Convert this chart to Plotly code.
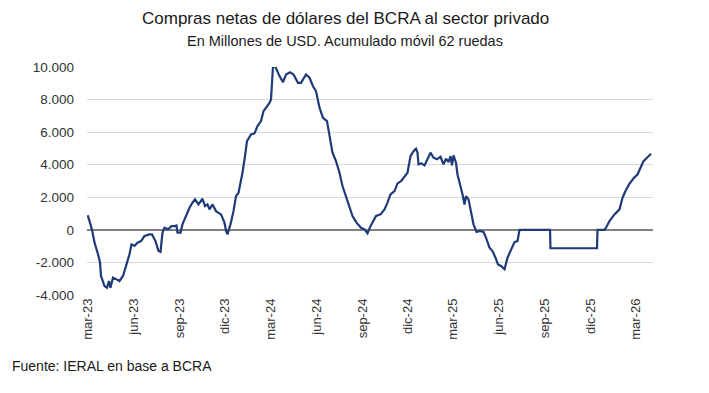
import plotly.graph_objects as go

dates = [
    "2023-03-01", "2023-03-03", "2023-03-10", "2023-03-15", "2023-03-22", "2023-03-26", "2023-03-28",
    "2023-04-04", "2023-04-09", "2023-04-13", "2023-04-16", "2023-04-21", "2023-04-28", "2023-05-04",
    "2023-05-11", "2023-05-17", "2023-05-24", "2023-05-28", "2023-06-03", "2023-06-09", "2023-06-16",
    "2023-06-23", "2023-07-03", "2023-07-08", "2023-07-15", "2023-07-21", "2023-07-25", "2023-07-29",
    "2023-08-02", "2023-08-09", "2023-08-16", "2023-08-23", "2023-08-26", "2023-08-28", "2023-09-03",
    "2023-09-07", "2023-09-14", "2023-09-21", "2023-09-27", "2023-10-02", "2023-10-09", "2023-10-17",
    "2023-10-22", "2023-10-27", "2023-10-31", "2023-11-06", "2023-11-13", "2023-11-23", "2023-11-30",
    "2023-12-03", "2023-12-06", "2023-12-12", "2023-12-18", "2023-12-23", "2023-12-28", "2024-01-01",
    "2024-01-05", "2024-01-10", "2024-01-14", "2024-01-22", "2024-01-29", "2024-02-04", "2024-02-11",
    "2024-02-16", "2024-02-24", "2024-02-28", "2024-03-02", "2024-03-04", "2024-03-06", "2024-03-11",
    "2024-03-19", "2024-03-26", "2024-04-01", "2024-04-09", "2024-04-16", "2024-04-25", "2024-05-01",
    "2024-05-11", "2024-05-18", "2024-05-25", "2024-05-31", "2024-06-07", "2024-06-14", "2024-06-22",
    "2024-06-27", "2024-07-03", "2024-07-10", "2024-07-17", "2024-07-23", "2024-07-30", "2024-08-06",
    "2024-08-12", "2024-08-20", "2024-08-29", "2024-09-05", "2024-09-11", "2024-09-17", "2024-09-21",
    "2024-09-28", "2024-10-07", "2024-10-15", "2024-10-21", "2024-10-27", "2024-11-04", "2024-11-10",
    "2024-11-17", "2024-11-24", "2024-11-30", "2024-12-06", "2024-12-12", "2024-12-17", "2024-12-20",
    "2024-12-22", "2024-12-28", "2025-01-03", "2025-01-08", "2025-01-15", "2025-01-21", "2025-01-28",
    "2025-02-04", "2025-02-10", "2025-02-15", "2025-02-20", "2025-02-24", "2025-02-27", "2025-03-02",
    "2025-03-07", "2025-03-10", "2025-03-16", "2025-03-20", "2025-03-24", "2025-03-27", "2025-04-01",
    "2025-04-06", "2025-04-11", "2025-04-17", "2025-04-24", "2025-05-01", "2025-05-06", "2025-05-13",
    "2025-05-19", "2025-05-25", "2025-05-30", "2025-06-05", "2025-06-12", "2025-06-18", "2025-06-25",
    "2025-07-02", "2025-07-08", "2025-07-12", "2025-09-11", "2025-09-12", "2025-12-14", "2025-12-15",
    "2025-12-29", "2026-01-01", "2026-01-08", "2026-01-18", "2026-01-28", "2026-02-03", "2026-02-09",
    "2026-02-16", "2026-02-26", "2026-03-05", "2026-03-11", "2026-03-17", "2026-03-24", "2026-04-01",
]

compras = [
    900, 750, 0, -770, -1500, -2000, -2830,
    -3450, -3550, -3140, -3550, -2930, -3040, -3140,
    -2830, -2220, -1500, -890, -990, -790, -690,
    -380, -280, -280, -690, -1300, -1350, -170,
    130, 30, 230, 230, 270, -170, -170,
    340, 850, 1360, 1670, 1870, 1560, 1910,
    1460, 1560, 1260, 1560, 1150, 950, 440,
    -70, -280, 340, 1150, 2070, 2280, 2900,
    3510, 4530, 5450, 5860, 5920, 6370, 6680,
    7290, 7600, 7800, 8010, 9000, 10050, 10000,
    9440, 9070, 9540, 9680, 9540, 9030, 9030,
    9540, 9340, 8820, 8520, 7500, 6880, 6680,
    5860, 4740, 4220, 3510, 2690, 2070, 1460,
    850, 440, 130, 30, -210, 230, 440,
    850, 950, 1260, 1670, 2180, 2380, 2850,
    2990, 3260, 3510, 4530, 4830, 4980, 4740,
    4020, 4080, 3960, 4330, 4740, 4430, 4330,
    4490, 4020, 4370, 4160, 4530, 3960, 4570,
    4120, 3400, 2690, 2180, 1560, 2070, 1870,
    1060, 340, -130, -70, -130, -480, -1090,
    -1300, -1710, -2120, -2220, -2420, -1710, -1200,
    -750, -690, 0, 0, -1130, -1130, 0,
    0, 130, 540, 950, 1260, 1970, 2380,
    2790, 3200, 3400, 3810, 4220, 4430, 4670,
]

x_tick_dates = ["2023-03-01", "2023-06-01", "2023-09-01", "2023-12-01", "2024-03-01", "2024-06-01",
                "2024-09-01", "2024-12-01", "2025-03-01", "2025-06-01", "2025-09-01", "2025-12-01",
                "2026-03-01"]
x_tick_labels = ["mar-23", "jun-23", "sep-23", "dic-23", "mar-24", "jun-24", "sep-24", "dic-24",
                 "mar-25", "jun-25", "sep-25", "dic-25", "mar-26"]
y_tick_vals = [-4000, -2000, 0, 2000, 4000, 6000, 8000, 10000]
y_tick_labels = ["-4.000", "-2.000", "0", "2.000", "4.000", "6.000", "8.000", "10.000"]

FONT = "Liberation Sans"
TXT = "#333333"

fig = go.Figure()
fig.add_trace(go.Scatter(
    x=dates, y=compras, mode="lines",
    line=dict(color="#1F3A78", width=2.2),
    hoverinfo="x+y", showlegend=False,
))

# The page body adds an 8px margin, so the figure is sized/positioned to compensate.
fig.update_layout(
    width=701, height=385,
    margin=dict(l=79, r=56, t=59, b=98),
    paper_bgcolor="white", plot_bgcolor="white",
    font=dict(family=FONT, size=13, color=TXT),
    xaxis=dict(
        type="date", range=["2023-02-28", "2026-04-05"],
        tickvals=x_tick_dates, ticktext=x_tick_labels, tickangle=-90,
        showgrid=False, zeroline=False, showline=False, ticks="",
        tickfont=dict(family=FONT, size=13, color=TXT),
        fixedrange=True,
    ),
    yaxis=dict(
        range=[-4000, 10000], tickvals=y_tick_vals, ticktext=y_tick_labels,
        showgrid=True, gridcolor="#D9D9D9", gridwidth=1,
        zeroline=True, zerolinecolor="#808080", zerolinewidth=1.5,
        showline=False, ticks="", ticklabelstandoff=12,
        tickfont=dict(family=FONT, size=13.5, color=TXT),
        fixedrange=True,
    ),
    annotations=[
        dict(text="Compras netas de dólares del BCRA al sector privado",
             xref="paper", yref="paper", x=0.456, y=1.0, yshift=49,
             xanchor="center", yanchor="middle", showarrow=False,
             font=dict(family=FONT, size=17, color="#1a1a1a")),
        dict(text="En Millones de USD. Acumulado móvil 62 ruedas",
             xref="paper", yref="paper", x=0.456, y=1.0, yshift=26,
             xanchor="center", yanchor="middle", showarrow=False,
             font=dict(family=FONT, size=14.5, color="#1a1a1a")),
        dict(text="Fuente: IERAL en base a BCRA",
             xref="paper", yref="paper", x=-0.136, y=0, yshift=-71,
             xanchor="left", yanchor="middle", showarrow=False,
             font=dict(family=FONT, size=14, color="#1a1a1a")),
    ],
)

fig.write_html("out.html")
